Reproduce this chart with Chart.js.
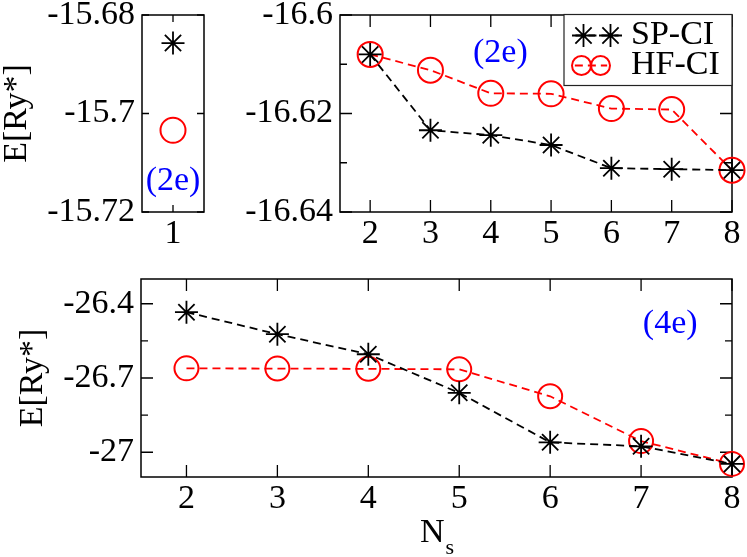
<!DOCTYPE html>
<html>
<head>
<meta charset="utf-8">
<script src="https://cdn.jsdelivr.net/npm/chart.js@4.4.0/dist/chart.umd.min.js"></script>
<style>
  html, body { margin: 0; padding: 0; background: #fff; }
  body { width: 747px; height: 557px; position: relative; overflow: hidden; }
  .panel { position: absolute; }
</style>
</head>
<body>
<div class="panel" id="p1"><canvas id="c1"></canvas></div>
<div class="panel" id="p2"><canvas id="c2"></canvas></div>
<div class="panel" id="p3"><canvas id="c3"></canvas></div>
<script>
// ---- data ----
const seriesNames = ['SP-CI', 'HF-CI'];

// N_s = 1, 2 electrons
const nsSmall = [1];
const spSmall = [-15.6857];
const hfSmall = [-15.7034];

// N_s = 2..8
const ns = [2, 3, 4, 5, 6, 7, 8];
const sp2e = [-16.608, -16.6234, -16.6244, -16.6264, -16.6311, -16.6313, -16.6315];
const hf2e = [-16.608, -16.6112, -16.6159, -16.616, -16.619, -16.6192, -16.6315];
const sp4e = [-26.434, -26.523, -26.604, -26.760, -26.960, -26.976, -27.047];
const hf4e = [-26.661, -26.662, -26.663, -26.665, -26.774, -26.955, -27.047];

// ticks
const xTicksSmall = [1];
const xTicks = [2, 3, 4, 5, 6, 7, 8];
const yMajorSmall = [-15.72, -15.7, -15.68];
const yMinorSmall = [];
const yMajor2e = [-16.64, -16.62, -16.6];
const yMinor2e = [-16.63, -16.61];
const yMajor4e = [-27, -26.7, -26.4];
const yMinor4e = [-26.85, -26.55];

const SERIF = "'Liberation Serif', 'Times New Roman', serif";
const FS = 34;
const DASH = [8, 5];

// frame box + inward ticks on all four sides
const framePlugin = {
  id: 'frame',
  beforeDatasetsDraw(chart, args, opts) {
    const { ctx, chartArea: a } = chart;
    const xs = chart.scales.x, ys = chart.scales.y;
    ctx.save();
    ctx.strokeStyle = '#000';
    ctx.lineWidth = 1.5;
    ctx.strokeRect(a.left, a.top, a.right - a.left, a.bottom - a.top);
    ctx.lineWidth = 1.3;
    ctx.beginPath();
    xs.ticks.forEach(t => {
      const px = xs.getPixelForValue(t.value);
      ctx.moveTo(px, a.bottom); ctx.lineTo(px, a.bottom - opts.major);
      ctx.moveTo(px, a.top); ctx.lineTo(px, a.top + opts.major);
    });
    ys.ticks.forEach(t => {
      const py = ys.getPixelForValue(t.value);
      const len = opts.majors.includes(t.value) ? opts.major : opts.minor;
      ctx.moveTo(a.left, py); ctx.lineTo(a.left + len, py);
      ctx.moveTo(a.right, py); ctx.lineTo(a.right - len, py);
    });
    ctx.stroke();
    ctx.restore();
  }
};

// blue "(2e)" / "(4e)" labels placed in data units
const notePlugin = {
  id: 'note',
  afterDatasetsDraw(chart, args, opts) {
    if (!opts.items) return;
    const { ctx } = chart;
    ctx.save();
    ctx.font = FS + 'px ' + SERIF;
    ctx.fillStyle = '#0000ff';
    ctx.textAlign = 'center';
    ctx.textBaseline = 'middle';
    opts.items.forEach(n => {
      ctx.fillText(n.text, chart.scales.x.getPixelForValue(n.x), chart.scales.y.getPixelForValue(n.y));
    });
    ctx.restore();
  }
};

function drawMarker(ctx, ds, r, x, y) {
  ctx.strokeStyle = ds.pointBorderColor;
  ctx.fillStyle = 'rgba(0,0,0,0)';
  ctx.lineWidth = ds.pointBorderWidth;
  Chart.helpers.drawPoint(ctx, { pointStyle: ds.pointStyle, radius: r, rotation: 0, borderWidth: ds.pointBorderWidth }, x, y);
}

// boxed legend with two markers per entry, top right corner
const boxLegend = {
  id: 'boxLegend',
  afterDatasetsDraw(chart, args, opts) {
    if (!opts.show) return;
    const { ctx, chartArea: a } = chart;
    const w = 168, h = 71;
    const left = a.right - w, top = a.top - 0.5;
    ctx.save();
    ctx.fillStyle = '#fff';
    ctx.fillRect(left, top, w, h);
    ctx.strokeStyle = '#222';
    ctx.lineWidth = 1.2;
    ctx.strokeRect(left, top, w, h);
    chart.data.datasets.forEach((ds, i) => {
      const y = top + 21 + i * 30;
      const r = ds.pointStyle === 'star' ? 11.5 : 9.5;
      const gap = ds.pointStyle === 'star' ? 4 : 0;
      const c1 = left + 8 + r, c2 = c1 + 2 * r + gap;
      ctx.save();
      ctx.strokeStyle = ds.borderColor;
      ctx.lineWidth = ds.borderWidth;
      ctx.setLineDash(DASH);
      ctx.beginPath();
      ctx.moveTo(c1 - r * 0.7, y); ctx.lineTo(c2 + r * 0.7, y);
      ctx.stroke();
      ctx.restore();
      drawMarker(ctx, ds, r, c1, y);
      drawMarker(ctx, ds, r, c2, y);
      ctx.fillStyle = '#000';
      ctx.font = FS + 'px ' + SERIF;
      ctx.textAlign = 'left';
      ctx.textBaseline = 'middle';
      ctx.fillText(ds.label, left + 67, y);
    });
    ctx.restore();
  }
};

// x axis title N with subscript s
const nsTitle = {
  id: 'nsTitle',
  afterDraw(chart, args, opts) {
    if (!opts.show) return;
    const { ctx, chartArea: a } = chart;
    const cx = (a.left + a.right) / 2;
    const base = a.bottom + 65;
    ctx.save();
    ctx.fillStyle = '#000';
    ctx.textBaseline = 'alphabetic';
    ctx.textAlign = 'left';
    ctx.font = FS + 'px ' + SERIF;
    const wN = ctx.measureText('N').width;
    ctx.font = '22px ' + SERIF;
    const wS = ctx.measureText('s').width;
    const x0 = cx - (wN + wS) / 2;
    ctx.font = FS + 'px ' + SERIF;
    ctx.fillText('N', x0, base);
    ctx.font = '22px ' + SERIF;
    ctx.fillText('s', x0 + wN + 1, base + 12);
    ctx.restore();
  }
};

function series(i, xs, ys, showLine, circleR) {
  const black = i === 0;
  const col = black ? '#000000' : '#ff0000';
  return {
    label: seriesNames[i],
    data: xs.map((x, k) => ({ x: x, y: ys[k] })),
    showLine: showLine,
    borderColor: col,
    borderWidth: 1.8,
    borderDash: DASH,
    tension: 0,
    fill: false,
    pointStyle: black ? 'star' : 'circle',
    pointRadius: black ? 11.5 : circleR,
    pointBorderWidth: black ? 1.8 : 2,
    pointBorderColor: col,
    pointBackgroundColor: 'rgba(0,0,0,0)',
    clip: false
  };
}

function panel(divId, canvasId, frame, cfg) {
  const padTop = 40, padBottom = 10;
  const div = document.getElementById(divId);
  div.style.left = '0px';
  div.style.top = (frame.t - padTop) + 'px';
  div.style.width = '747px';
  div.style.height = (padTop + (frame.b - frame.t) + cfg.xH + padBottom) + 'px';
  const yW = frame.l - cfg.yLeft;
  const tickFont = { family: SERIF, size: FS, lineHeight: 1.2 };
  new Chart(document.getElementById(canvasId), {
    type: 'line',
    data: { datasets: cfg.datasets },
    options: {
      responsive: true,
      maintainAspectRatio: false,
      animation: false,
      events: [],
      layout: { padding: { left: cfg.yLeft, right: 747 - frame.r, top: padTop, bottom: padBottom } },
      plugins: {
        legend: { display: false },
        tooltip: { enabled: false },
        frame: { major: cfg.major, minor: cfg.minor, majors: cfg.yMajor },
        note: { items: cfg.notes },
        boxLegend: { show: !!cfg.legend },
        nsTitle: { show: !!cfg.nsTitle }
      },
      scales: {
        x: {
          type: 'linear',
          min: cfg.xMin, max: cfg.xMax,
          afterBuildTicks: s => { s.ticks = cfg.xTicks.map(v => ({ value: v })); },
          afterFit: s => { s.height = cfg.xH; },
          grid: { display: false, drawTicks: false },
          border: { display: false },
          ticks: { font: tickFont, color: '#000', padding: 2, maxRotation: 0, autoSkip: false, callback: v => String(v) }
        },
        y: {
          type: 'linear',
          min: cfg.yMin, max: cfg.yMax,
          afterBuildTicks: s => {
            s.ticks = cfg.yMajor.concat(cfg.yMinor).sort((p, q) => p - q).map(v => ({ value: v }));
          },
          afterFit: s => { s.width = yW; },
          grid: { display: false, drawTicks: false },
          border: { display: false },
          ticks: {
            font: tickFont, color: '#000', padding: 7, autoSkip: false,
            callback: v => cfg.yMajor.includes(v) ? String(v) : ''
          },
          title: {
            display: !!cfg.yTitle,
            text: 'E[Ry*]',
            color: '#000',
            padding: 0,
            font: { family: SERIF, size: FS, lineHeight: 1 }
          }
        }
      }
    },
    plugins: [framePlugin, notePlugin, boxLegend, nsTitle]
  });
}

// top left: N_s = 1
panel('p1', 'c1', { l: 142, t: 15, r: 204, b: 212 }, {
  yLeft: 0.5, xH: 45, yTitle: true,
  xMin: 0.5, xMax: 1.5, xTicks: xTicksSmall,
  yMin: -15.72, yMax: -15.68, yMajor: yMajorSmall, yMinor: yMinorSmall,
  major: 7, minor: 4,
  datasets: [series(0, nsSmall, spSmall, false, 12.5), series(1, nsSmall, hfSmall, false, 12.5)],
  notes: [{ text: '(2e)', x: 1, y: -15.7137 }]
});

// top right: 2 electrons
panel('p2', 'c2', { l: 340, t: 15, r: 732, b: 212 }, {
  yLeft: 220, xH: 45, yTitle: false, legend: true,
  xMin: 1.5, xMax: 8, xTicks: xTicks,
  yMin: -16.64, yMax: -16.6, yMajor: yMajor2e, yMinor: yMinor2e,
  major: 12, minor: 7,
  datasets: [series(0, ns, sp2e, true, 12.5), series(1, ns, hf2e, true, 12.5)],
  notes: [{ text: '(2e)', x: 4.16, y: -16.6077 }]
});

// bottom: 4 electrons
panel('p3', 'c3', { l: 141, t: 279, r: 732, b: 477 }, {
  yLeft: 16, xH: 90, yTitle: true, nsTitle: true,
  xMin: 1.5, xMax: 8, xTicks: xTicks,
  yMin: -27.1, yMax: -26.3, yMajor: yMajor4e, yMinor: yMinor4e,
  major: 12, minor: 7,
  datasets: [series(0, ns, sp4e, true, 12), series(1, ns, hf4e, true, 12)],
  notes: [{ text: '(4e)', x: 7.32, y: -26.481 }]
});
</script>
</body>
</html>
